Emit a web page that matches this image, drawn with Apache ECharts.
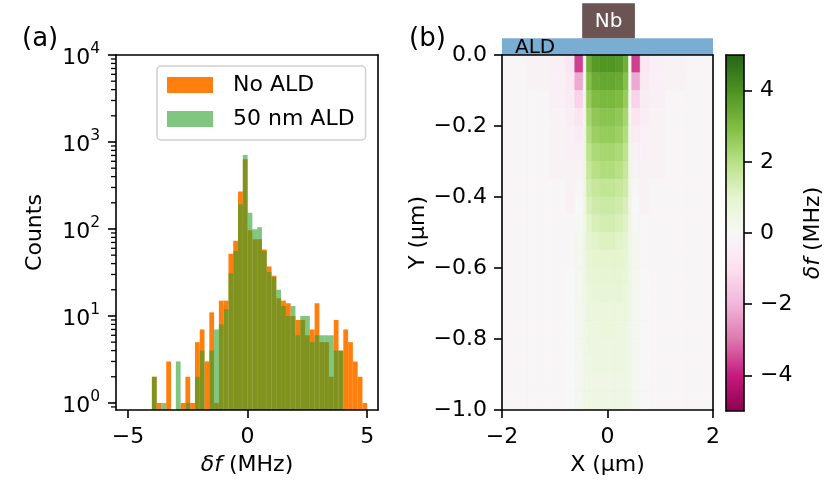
<!DOCTYPE html>
<html>
<head>
<meta charset="utf-8">
<script src="https://cdn.jsdelivr.net/npm/echarts@6/dist/echarts.min.js"></script>
<style>html,body{margin:0;padding:0;background:#fff}#chart{width:830px;height:495px}</style>
</head>
<body>
<div id="chart"></div>
<script>
// (a) histogram: bin left edges (MHz) and counts per bin
var binWidth = 0.2;
var binLefts = [-4.0,-3.8,-3.6,-3.4,-3.2,-3.0,-2.8,-2.6,-2.4,-2.2,-2.0,-1.8,-1.6,-1.4,-1.2,-1.0,-0.8,-0.6,-0.4,-0.2,
                0.0,0.2,0.4,0.6,0.8,1.0,1.2,1.4,1.6,1.8,2.0,2.2,2.4,2.6,2.8,3.0,3.2,3.4,3.6,3.8,4.0,4.2,4.4,4.6,4.8];
var countsNoAld = [2,1,0,3,0,0,1,2,1,5,7,3,11,1,15,15,52,73,269,632,
                   97,76,76,58,37,29,16,15,14,10,9,9,6,7,14,5,5,2,9,4,7,5,3,2,1];
var counts50nm  = [2,0,1,0,0,3,0,1,0,2,4,0,4,7,8,12,31,56,192,711,
                   154,99,105,56,32,28,20,13,10,13,6,10,10,5,6,6,6,6,4,4,0,0,0,0,0];
var countRange = [0.83, 10000];
var xRangeA = [-5.5, 5.45];
var xTicksA = [-5, 0, 5];
var yDecades = [0, 1, 2, 3, 4];

// (b) simulated shift map: column edges (um), row edges (um), values (MHz)
var xEdges = [-2,-1.5,-1.1,-0.8,-0.62,-0.46,-0.4,-0.3,-0.15,0,0.15,0.3,0.4,0.46,0.62,0.8,1.1,1.5,2];
var yEdges = [0,-0.05,-0.1,-0.15,-0.2,-0.25,-0.3,-0.35,-0.4,-0.45,-0.5,-0.55,-0.6,-0.65,-0.7,-0.75,-0.8,-0.85,-0.9,-0.95,-1.0];
var dfRows = [
  [-0.1,-0.2,-0.3,-0.7,-3.6,0.1,3.3,3.8,3.9, 3.9,3.8,3.3,0.1,-3.6,-0.7,-0.3,-0.2,-0.1],
  [-0.1,-0.2,-0.3,-0.6,-2.2,0.2,2.9,3.4,3.5, 3.5,3.4,2.9,0.2,-2.2,-0.6,-0.3,-0.2,-0.1],
  [-0.1,-0.1,-0.3,-0.5,-1.3,0.3,2.6,3.0,3.1, 3.1,3.0,2.6,0.3,-1.3,-0.5,-0.3,-0.1,-0.1],
  [-0.1,-0.1,-0.2,-0.4,-0.8,0.3,2.3,2.7,2.8, 2.8,2.7,2.3,0.3,-0.8,-0.4,-0.2,-0.1,-0.1],
  [-0.1,-0.1,-0.2,-0.3,-0.5,0.4,2.1,2.5,2.6, 2.6,2.5,2.1,0.4,-0.5,-0.3,-0.2,-0.1,-0.1],
  [-0.1,-0.1,-0.2,-0.3,-0.3,0.4,1.9,2.2,2.3, 2.3,2.2,1.9,0.4,-0.3,-0.3,-0.2,-0.1,-0.1],
  [-0.1,-0.1,-0.2,-0.2,-0.2,0.5,1.7,2.0,2.1, 2.1,2.0,1.7,0.5,-0.2,-0.2,-0.2,-0.1,-0.1],
  [-0.1,-0.1,-0.1,-0.2,-0.1,0.5,1.5,1.7,1.8, 1.8,1.7,1.5,0.5,-0.1,-0.2,-0.1,-0.1,-0.1],
  [-0.1,-0.1,-0.1,-0.2,0.0,0.5,1.3,1.5,1.6, 1.6,1.5,1.3,0.5,0.0,-0.2,-0.1,-0.1,-0.1],
  [-0.1,-0.1,-0.1,-0.1,0.1,0.5,1.1,1.3,1.4, 1.4,1.3,1.1,0.5,0.1,-0.1,-0.1,-0.1,-0.1],
  [-0.1,-0.1,-0.1,-0.1,0.2,0.5,1.0,1.1,1.2, 1.2,1.1,1.0,0.5,0.2,-0.1,-0.1,-0.1,-0.1],
  [-0.1,-0.1,-0.1,-0.1,0.2,0.5,0.9,1.0,1.0, 1.0,1.0,0.9,0.5,0.2,-0.1,-0.1,-0.1,-0.1],
  [-0.1,-0.1,-0.1,0.0,0.2,0.5,0.8,0.9,0.9, 0.9,0.9,0.8,0.5,0.2,0.0,-0.1,-0.1,-0.1],
  [-0.1,-0.1,-0.1,0.0,0.2,0.5,0.7,0.8,0.8, 0.8,0.8,0.7,0.5,0.2,0.0,-0.1,-0.1,-0.1],
  [-0.1,-0.1,-0.1,0.0,0.2,0.4,0.7,0.7,0.7, 0.7,0.7,0.7,0.4,0.2,0.0,-0.1,-0.1,-0.1],
  [-0.1,-0.1,-0.1,0.0,0.2,0.4,0.6,0.6,0.7, 0.7,0.6,0.6,0.4,0.2,0.0,-0.1,-0.1,-0.1],
  [-0.1,-0.1,-0.1,0.0,0.2,0.4,0.6,0.6,0.6, 0.6,0.6,0.6,0.4,0.2,0.0,-0.1,-0.1,-0.1],
  [-0.1,-0.1,-0.1,0.0,0.2,0.4,0.5,0.6,0.6, 0.6,0.6,0.5,0.4,0.2,0.0,-0.1,-0.1,-0.1],
  [-0.1,-0.1,-0.1,0.0,0.2,0.4,0.5,0.5,0.5, 0.5,0.5,0.5,0.4,0.2,0.0,-0.1,-0.1,-0.1],
  [-0.1,-0.1,-0.1,0.0,0.2,0.4,0.5,0.5,0.5, 0.5,0.5,0.5,0.4,0.2,0.0,-0.1,-0.1,-0.1]
];
// device layers drawn above the map: [x0, x1, y0, y1] in um
var layerNames = ['ALD', 'Nb'];
var layerExtents = [[-2, 2, 0, 0.047], [-0.48, 0.52, 0.047, 0.146]];
var cbTicks = [-4, -2, 0, 2, 4];

var piyg = ['#8e0152','#c51b7d','#de77ae','#f1b6da','#fde0ef','#f7f7f7','#e6f5d0','#b8e186','#7fbc41','#4d9221','#276419'];
var FONT = 'DejaVu Sans';
var FS = 22;
var black = '#000';

function minus(v) { return String(v).replace('-', '\u2212'); }

// log axis drawn on a linear scale of log10(count)
var yLo = Math.log10(countRange[0]), yHi = Math.log10(countRange[1]);
var minorTicks = [];
for (var n = -1; n < 4; n++) {
  for (var k = 2; k <= 9; k++) {
    var t = n + Math.log10(k);
    if (t > yLo && t < yHi) minorTicks.push([xRangeA[0], t]);
  }
}

function histItem(params, api) {
  var n = api.value(1);
  if (!(n > 0)) return;
  var top = api.coord([api.value(0), Math.log10(n)]);
  var bot = api.coord([api.value(0) + binWidth, yLo]);
  return {
    type: 'rect',
    shape: { x: top[0], y: top[1], width: bot[0] - top[0], height: bot[1] - top[1] },
    style: { fill: api.visual('color') }
  };
}

var heatData = [];
dfRows.forEach(function (row, r) {
  row.forEach(function (v, c) {
    heatData.push([xEdges[c], xEdges[c + 1], yEdges[r], yEdges[r + 1], v]);
  });
});

var lineStyle = { color: black, width: 1.6 };
var axisLine = { show: true, onZero: false, lineStyle: lineStyle };
var tickStyle = { color: black, width: 1.6 };
var labelStyle = { color: black, fontSize: FS, fontFamily: FONT };
var nameStyle = { fontSize: FS, color: black, fontFamily: FONT };
var nameRich = { fontSize: FS, color: black, fontFamily: FONT, rich: { i: { fontStyle: 'italic', fontSize: FS, color: black, fontFamily: FONT } } };

// plain line axes that close each box on the top/right sides
function frameAxis(g, pos) {
  return { gridIndex: g, type: 'value', position: pos, min: 0, max: 1, z: 6,
    axisLine: axisLine, axisTick: { show: false }, axisLabel: { show: false }, splitLine: { show: false } };
}

var myChart = echarts.init(document.getElementById('chart'));

myChart.setOption({
  animation: false,
  textStyle: { fontFamily: FONT, color: black },
  grid: [
    { left: 116, top: 55, width: 262, height: 355 },
    { left: 502, top: 55, width: 211, height: 355 },
    { left: 726, top: 55, width: 18, height: 356 }
  ],
  legend: {
    left: 157, top: 66, orient: 'vertical',
    data: ['No ALD', '50 nm ALD'],
    icon: 'rect', itemWidth: 46, itemHeight: 16, itemGap: 12,
    padding: [8, 11, 10, 10],
    borderColor: '#d0d0d0', borderWidth: 1.5, borderRadius: 4,
    backgroundColor: 'rgba(255,255,255,0.8)',
    textStyle: { fontSize: FS, color: black, fontFamily: FONT, padding: [0, 0, 0, 15] }
  },
  xAxis: [
    {
      gridIndex: 0, type: 'value', min: xRangeA[0], max: xRangeA[1], z: 6,
      axisLine: axisLine, splitLine: { show: false },
      axisTick: { show: true, customValues: xTicksA, length: 8, lineStyle: tickStyle },
      axisLabel: Object.assign({ customValues: xTicksA, formatter: minus, margin: 16 }, labelStyle),
      name: '{i|\u03b4f} (MHz)', nameLocation: 'middle', nameGap: 44, nameTextStyle: nameRich
    },
    {
      gridIndex: 1, type: 'value', min: -2, max: 2, interval: 2, z: 6,
      axisLine: axisLine, splitLine: { show: false },
      axisTick: { show: true, length: 8, lineStyle: tickStyle },
      axisLabel: Object.assign({ formatter: minus, margin: 16 }, labelStyle),
      name: 'X (\u00b5m)', nameLocation: 'middle', nameGap: 44, nameTextStyle: nameStyle
    },
    { gridIndex: 2, type: 'value', min: 0, max: 1, show: false },
    frameAxis(0, 'top'), frameAxis(1, 'top'), frameAxis(2, 'top'), frameAxis(2, 'bottom')
  ],
  yAxis: [
    {
      gridIndex: 0, type: 'value', min: yLo, max: yHi, z: 6, position: 'left',
      axisLine: axisLine, splitLine: { show: false },
      axisTick: { show: true, customValues: yDecades, length: 8, lineStyle: tickStyle },
      axisLabel: {
        customValues: yDecades, margin: 16,
        formatter: function (v) { return '{b|10}{e|' + Math.round(v) + '}'; },
        rich: {
          b: { fontSize: FS, color: black, fontFamily: FONT, verticalAlign: 'bottom' },
          e: { fontSize: 15.5, color: black, fontFamily: FONT, verticalAlign: 'top', padding: [0, 0, 12, 0] }
        }
      },
      name: 'Counts', nameLocation: 'middle', nameGap: 70, nameRotate: 90, nameTextStyle: nameStyle
    },
    {
      gridIndex: 1, type: 'value', min: -1, max: 0, interval: 0.2, z: 6,
      axisLine: axisLine, splitLine: { show: false },
      axisTick: { show: true, length: 8, lineStyle: tickStyle },
      axisLabel: Object.assign({ formatter: function (v) { return minus(v.toFixed(1)).replace('\u22120.0', '0.0'); }, margin: 15 }, labelStyle),
      name: 'Y (\u00b5m)', nameLocation: 'middle', nameGap: 59, nameRotate: 90, nameTextStyle: nameStyle
    },
    {
      gridIndex: 2, type: 'value', min: -5, max: 5, z: 6, position: 'right',
      axisLine: axisLine, splitLine: { show: false },
      axisTick: { show: true, customValues: cbTicks, length: 8, lineStyle: tickStyle },
      axisLabel: Object.assign({ customValues: cbTicks, formatter: minus, margin: 16 }, labelStyle),
      name: '{i|\u03b4f} (MHz)', nameLocation: 'middle', nameGap: 58, nameRotate: 90, nameTextStyle: nameRich
    },
    frameAxis(0, 'right'), frameAxis(1, 'right'), frameAxis(2, 'left')
  ],
  visualMap: {
    show: false, type: 'continuous', min: -5, max: 5, dimension: 4, seriesIndex: 2,
    inRange: { color: piyg }
  },
  series: [
    {
      name: 'No ALD', type: 'custom', xAxisIndex: 0, yAxisIndex: 0, z: 2,
      itemStyle: { color: '#ff7f0e' }, renderItem: histItem,
      data: binLefts.map(function (x, i) { return [x, countsNoAld[i]]; })
    },
    {
      name: '50 nm ALD', type: 'custom', xAxisIndex: 0, yAxisIndex: 0, z: 3,
      itemStyle: { color: 'rgba(44,160,44,0.6)' }, renderItem: histItem,
      data: binLefts.map(function (x, i) { return [x, counts50nm[i]]; })
    },
    {
      type: 'custom', xAxisIndex: 1, yAxisIndex: 1, z: 2,
      encode: { x: [0, 1], y: [2, 3] },
      renderItem: function (params, api) {
        var p0 = api.coord([api.value(0), api.value(2)]);
        var p1 = api.coord([api.value(1), api.value(3)]);
        var c = api.visual('color');
        return {
          type: 'rect',
          shape: { x: p0[0], y: p0[1], width: p1[0] - p0[0], height: p1[1] - p0[1] },
          style: { fill: c, stroke: c, lineWidth: 0.6 }
        };
      },
      data: heatData
    },
    {
      type: 'custom', xAxisIndex: 1, yAxisIndex: 1, z: 3, clip: false,
      encode: { x: [0, 1], y: [2, 3] },
      renderItem: function (params, api) {
        var i = params.dataIndex;
        var p0 = api.coord([api.value(0), api.value(3)]);
        var p1 = api.coord([api.value(1), api.value(2)]);
        var isAld = layerNames[i] === 'ALD';
        return {
          type: 'group',
          children: [
            {
              type: 'rect',
              shape: { x: p0[0], y: p0[1], width: p1[0] - p0[0], height: p1[1] - p0[1] },
              style: { fill: isAld ? 'rgba(31,119,180,0.6)' : '#6c5454' }
            },
            {
              type: 'text',
              x: isAld ? p0[0] + 13 : (p0[0] + p1[0]) / 2,
              y: (p0[1] + p1[1]) / 2 + 1,
              style: {
                text: layerNames[i], fill: isAld ? black : '#fff',
                fontSize: 20, fontFamily: FONT,
                align: isAld ? 'left' : 'center', verticalAlign: 'middle'
              }
            }
          ]
        };
      },
      data: layerExtents
    },
    {
      type: 'custom', xAxisIndex: 2, yAxisIndex: 2, z: 2,
      renderItem: function (params, api) {
        var p0 = api.coord([0, api.value(1)]);
        var p1 = api.coord([1, api.value(0)]);
        var stops = piyg.map(function (c, j) { return { offset: j / (piyg.length - 1), color: c }; });
        return {
          type: 'rect',
          shape: { x: p0[0], y: p0[1], width: p1[0] - p0[0], height: p1[1] - p0[1] },
          style: { fill: new echarts.graphic.LinearGradient(0, 1, 0, 0, stops) }
        };
      },
      data: [[-5, 5]]
    },
    {
      // minor log ticks (2..9 x 10^n) on the left edge of panel (a)
      type: 'custom', xAxisIndex: 0, yAxisIndex: 0, z: 7, clip: false, silent: true,
      renderItem: function (params, api) {
        var p = api.coord([api.value(0), api.value(1)]);
        return {
          type: 'line',
          shape: { x1: p[0] - 5, y1: p[1], x2: p[0], y2: p[1] },
          style: { stroke: black, lineWidth: 1.3 }
        };
      },
      data: minorTicks
    }
  ],
  graphic: [
    { type: 'text', left: 22, top: 26, style: { text: '(a)', fontSize: 26, fontFamily: FONT, fill: black } },
    { type: 'text', left: 409, top: 26, style: { text: '(b)', fontSize: 26, fontFamily: FONT, fill: black } }
  ]
});
</script>
</body>
</html>
